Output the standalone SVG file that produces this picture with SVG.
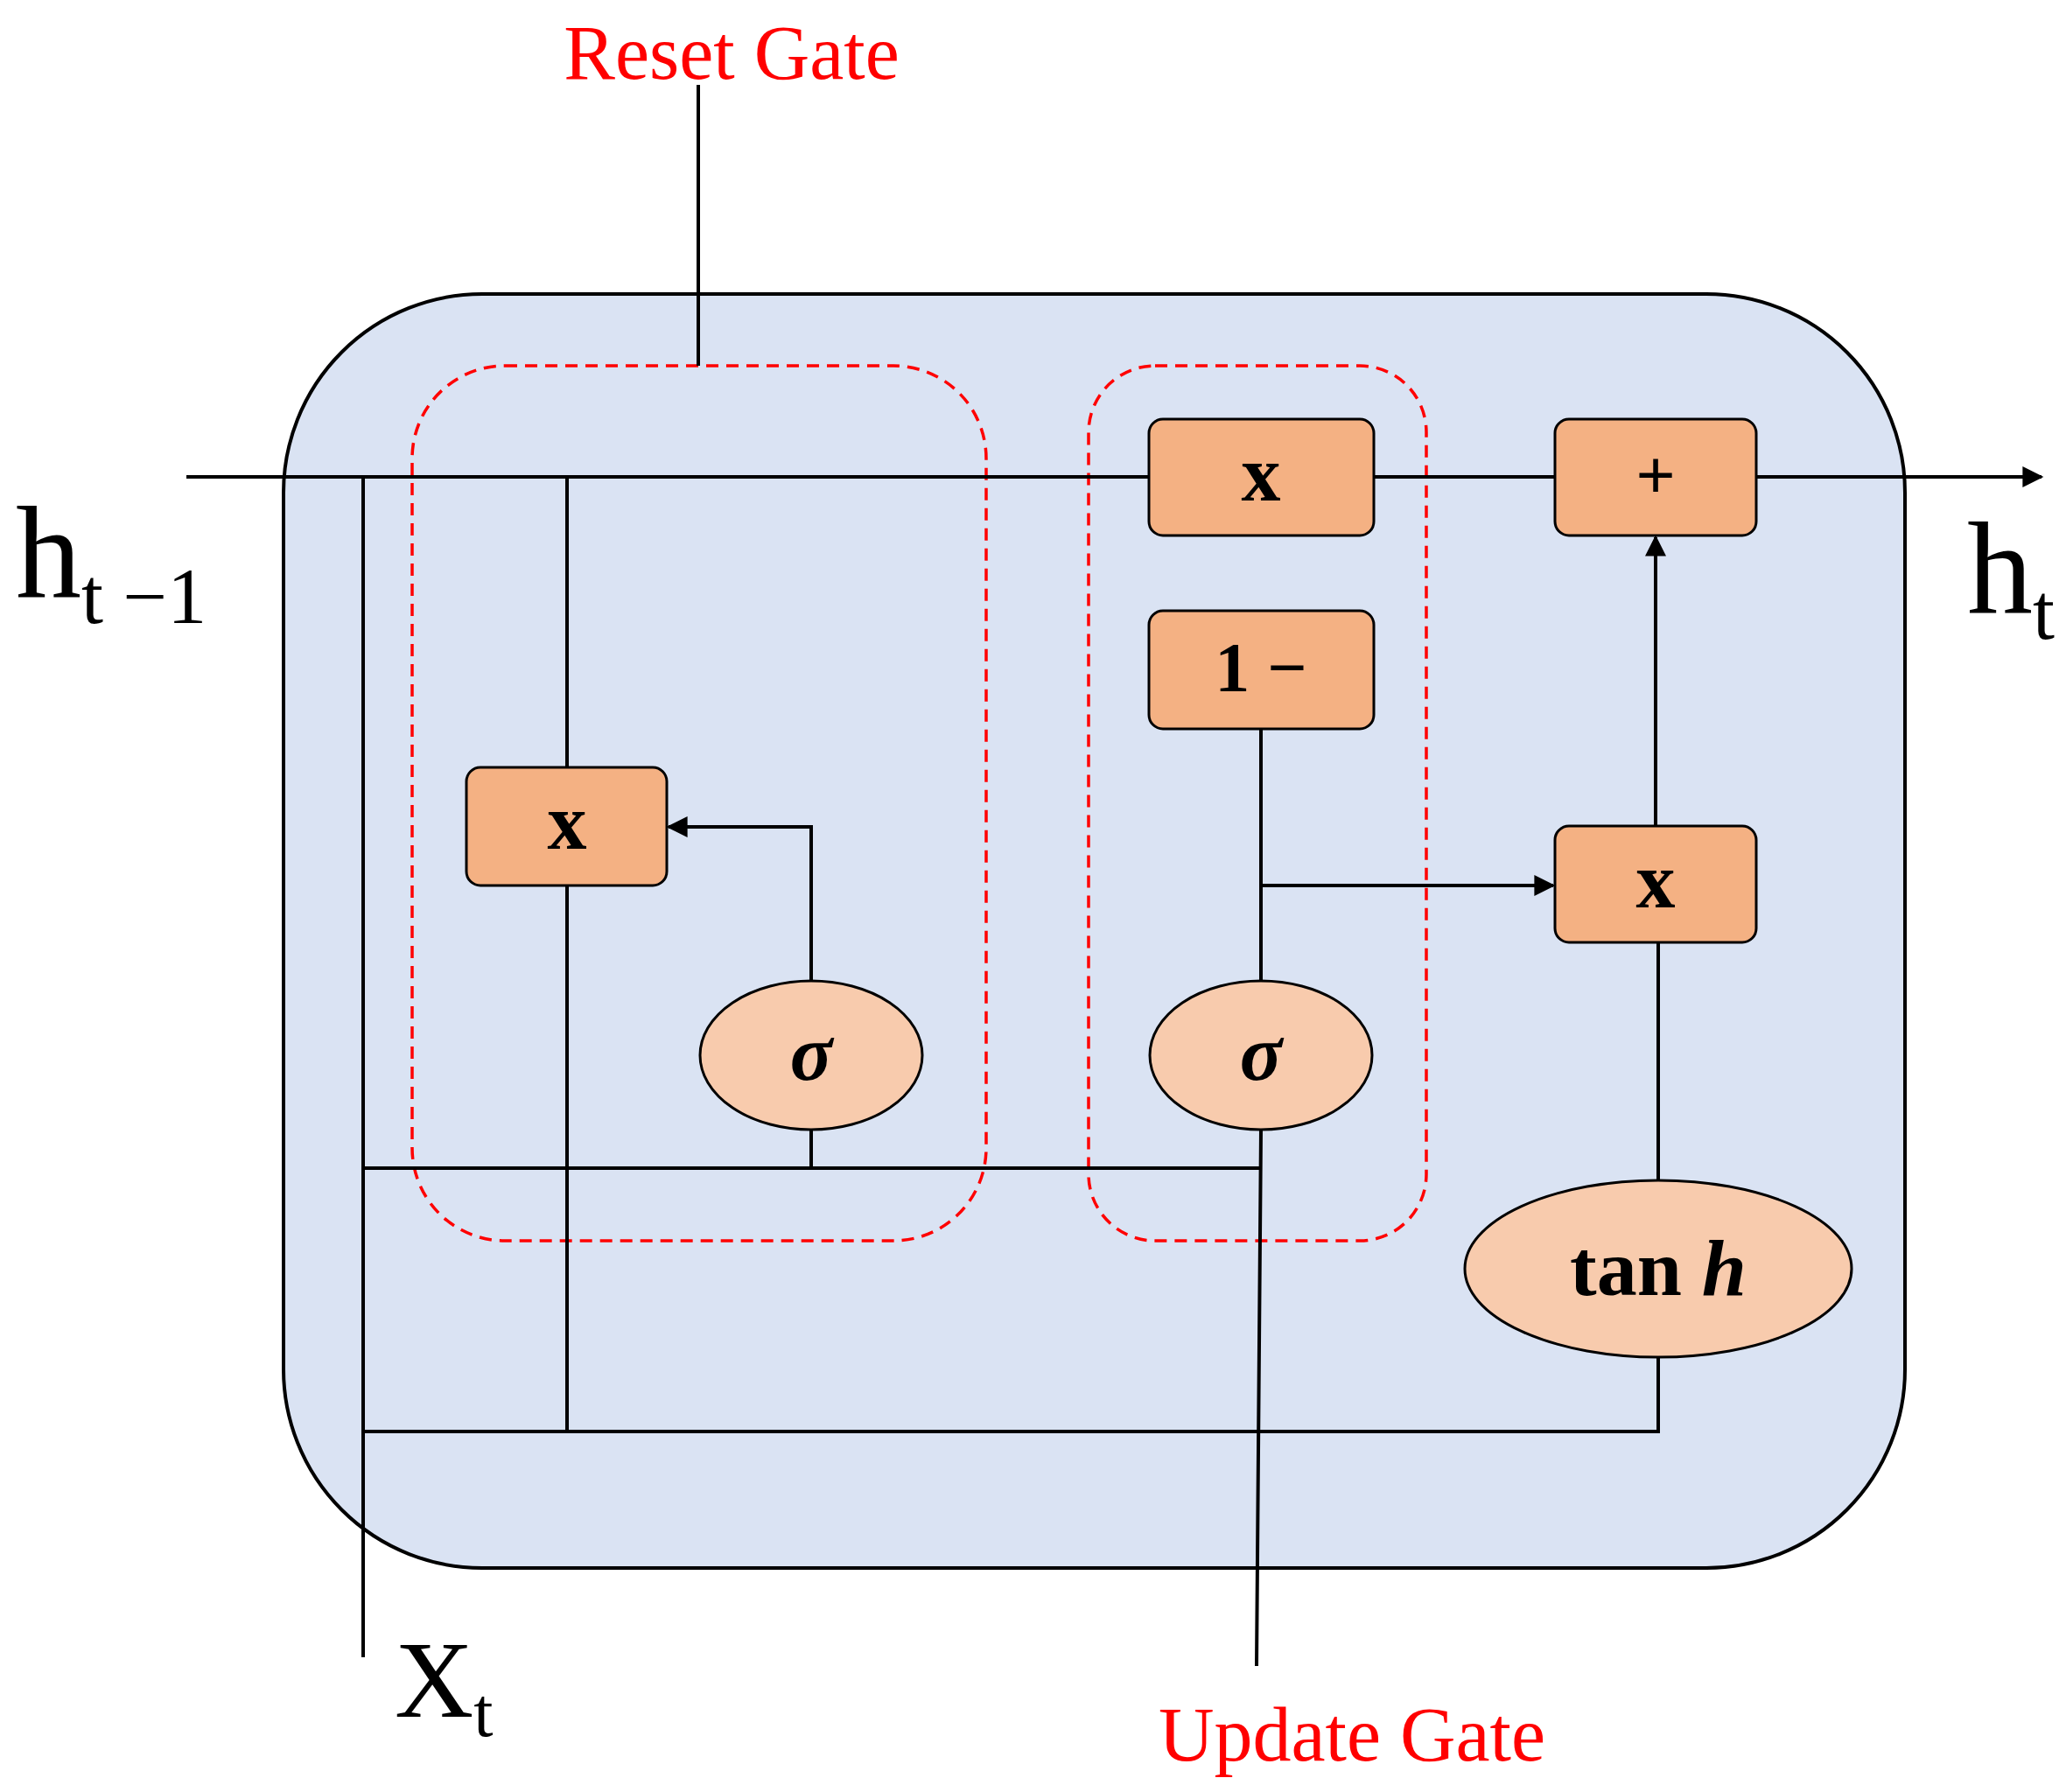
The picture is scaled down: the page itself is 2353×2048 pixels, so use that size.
<svg xmlns="http://www.w3.org/2000/svg" width="2353" height="2048" viewBox="0 0 2353 2048">
<style>
.b{fill:#F4B183;stroke:#000;stroke-width:3}
.e{fill:#F8CBAD;stroke:#000;stroke-width:3}
.l{fill:none;stroke:#000;stroke-width:4}
.d{fill:none;stroke:#FF0000;stroke-width:3.5;stroke-dasharray:14 9}
.t{font-family:"Liberation Serif",serif;font-weight:bold;text-anchor:middle}
.r{font-family:"Liberation Serif",serif;fill:#FF0000;font-size:88px;text-anchor:middle}
.v{font-family:"Liberation Serif",serif}
</style>
<defs><marker id="a" markerWidth="10" markerHeight="10" refX="9" refY="5" orient="auto" markerUnits="userSpaceOnUse" viewBox="0 0 10 10"><path d="M0,0 L10,5 L0,10 z" fill="#000"/></marker>
<marker id="A" viewBox="0 0 10 10" refX="9" refY="5" markerWidth="30" markerHeight="24" orient="auto" markerUnits="userSpaceOnUse"><path d="M0,0 L10,5 L0,10 z" fill="#000"/></marker></defs>
<rect x="324" y="336" width="1853" height="1456" rx="227" fill="#DAE3F3" stroke="#000" stroke-width="4"/>
<rect class="d" x="471" y="418" width="656" height="1000" rx="106"/>
<rect class="d" x="1244" y="418" width="386" height="1000" rx="76"/>
<g id="connectors">
<path class="l" d="M213,545 H1313 M1570,545 H1777"/>
<path class="l" d="M2007,545 H2333" marker-end="url(#A)"/>
<path class="l" d="M415,545 V1894 M648,545 V877 M648,1012 V1636 M415,1335 H1441 M927,1335 V1291"/>
<path class="l" d="M927,1121 V945 H764" marker-end="url(#A)"/>
<path class="l" d="M1436,1904 L1441,1291 M1441,1121 V833"/>
<path class="l" d="M1441,1012 H1775" marker-end="url(#A)"/>
<path class="l" d="M415,1636 H1895 V1551 M1895,1349 V1077"/>
<path class="l" d="M1892,944 V614" marker-end="url(#A)"/>
<path class="l" d="M798,97 V418"/>
</g>
<g id="n1"><rect class="b" x="1313" y="479" width="257" height="133" rx="16"/><text class="t" x="1441" y="572" font-size="90">x</text></g>
<g id="n2"><rect class="b" x="1777" y="479" width="230" height="133" rx="16"/><text class="t" x="1892" y="570" font-size="80">+</text></g>
<g id="n3"><rect class="b" x="1313" y="698" width="257" height="135" rx="16"/><text class="t" x="1441" y="790" font-size="80">1 −</text></g>
<g id="n4"><rect class="b" x="533" y="877" width="229" height="135" rx="16"/><text class="t" x="648" y="970" font-size="90">x</text></g>
<g id="n5"><rect class="b" x="1777" y="944" width="230" height="133" rx="16"/><text class="t" x="1892" y="1037" font-size="90">x</text></g>
<g id="n6"><ellipse class="e" cx="927" cy="1206" rx="127" ry="85"/><text class="t" x="927" y="1234" font-size="90" font-style="italic">σ</text></g>
<g id="n7"><ellipse class="e" cx="1441" cy="1206" rx="127" ry="85"/><text class="t" x="1441" y="1234" font-size="90" font-style="italic">σ</text></g>
<g id="n8"><ellipse class="e" cx="1895" cy="1450" rx="221" ry="101"/><text class="t" x="1895" y="1480" font-size="92">tan <tspan font-style="italic">h</tspan></text></g>
<text class="r" x="836" y="90">Reset Gate</text>
<text class="r" x="1545" y="2012">Update Gate</text>
<text class="v" x="18" y="682" font-size="150">h<tspan font-size="90" dy="30">t −1</tspan></text>
<text class="v" x="2248" y="700" font-size="150">h<tspan font-size="90" dy="30">t</tspan></text>
<text class="v" x="451" y="1962" font-size="125">X<tspan font-size="80" dy="22">t</tspan></text>
</svg>
